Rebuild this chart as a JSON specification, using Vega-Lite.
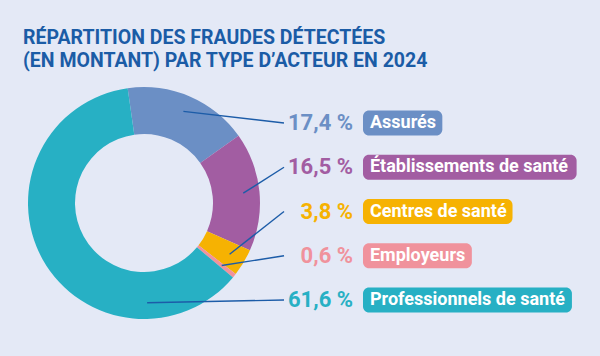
{
  "$schema": "https://vega.github.io/schema/vega-lite/v6.json",
  "width": 288,
  "height": 266,
  "autosize": "none",
  "padding": {"top": 70, "left": 0, "right": 312, "bottom": 20},
  "background": "#e4e9f6",
  "title": {
    "text": ["RÉPARTITION DES FRAUDES DÉTECTÉES", "(EN MONTANT) PAR TYPE D’ACTEUR EN 2024"],
    "anchor": "start",
    "frame": "group",
    "dx": 23,
    "offset": -1,
    "font": "Roboto",
    "fontSize": 19.5,
    "fontWeight": "bold",
    "color": "#1b5ca6",
    "lineHeight": 23
  },
  "data": {
    "values": [
      {"acteur": "Assurés", "part": 17.4},
      {"acteur": "Établissements de santé", "part": 16.5},
      {"acteur": "Centres de santé", "part": 3.8},
      {"acteur": "Employeurs", "part": 0.6},
      {"acteur": "Professionnels de santé", "part": 61.6}
    ]
  },
  "transform": [
    {"window": [{"op": "row_number", "as": "rang"}, {"op": "sum", "field": "part", "as": "cumul"}], "frame": [null, 0]},
    {"joinaggregate": [{"op": "sum", "field": "part", "as": "total"}]},
    {"calculate": "2*PI*(datum.cumul - datum.part/2)/datum.total - 0.1414", "as": "angle_mid"},
    {"calculate": "min(datum.angle_mid, 3.11)", "as": "angle_ancre"},
    {"calculate": "0.86*sin(datum.angle_ancre)", "as": "ancre_u"},
    {"calculate": "0.86*cos(datum.angle_ancre)", "as": "ancre_v"},
    {"calculate": "1.2069", "as": "fin_u"},
    {"calculate": "1.8017", "as": "pct_u"},
    {"calculate": "1.8879", "as": "boite_u"},
    {"calculate": "1.9483", "as": "nom_u"},
    {"calculate": "0.6897 - 0.3815*(datum.rang - 1)", "as": "ligne_v"},
    {"calculate": "datum.ligne_v + 0.1078", "as": "boite_haut"},
    {"calculate": "datum.ligne_v - 0.1078", "as": "boite_bas"},
    {"calculate": "replace(format(datum.part, '.1f'), '.', ',') + ' %'", "as": "pct_txt"},
    {"calculate": "length(datum.acteur)", "as": "n_car"},
    {"calculate": "datum.n_car - length(replace(datum.acteur, regexp('[A-ZÉ]', 'g'), ''))", "as": "n_maj"},
    {"calculate": "datum.n_car - length(replace(datum.acteur, regexp('[iljtfr ,]', 'g'), ''))", "as": "n_etroit"},
    {"calculate": "datum.n_car - length(replace(datum.acteur, regexp('[mw]', 'g'), ''))", "as": "n_large"},
    {"calculate": "0.54*datum.n_car + 0.09*datum.n_maj - 0.24*datum.n_etroit + 0.26*datum.n_large", "as": "largeur_em"},
    {"calculate": "datum.boite_u + (datum.largeur_em*18 + 14)/116", "as": "boite_fin"}
  ],
  "layer": [
    {
      "mark": {"type": "arc", "innerRadius": 69, "outerRadius": 116},
      "encoding": {
        "theta": {"field": "part", "type": "quantitative", "stack": true, "scale": {"range": [-0.1414, 6.1418]}},
        "order": {"field": "rang", "type": "quantitative"},
        "color": {
          "field": "acteur", "type": "nominal", "legend": null,
          "scale": {
            "domain": ["Assurés", "Établissements de santé", "Centres de santé", "Employeurs", "Professionnels de santé"],
            "range": ["#6b8fc5", "#a25da2", "#f6b202", "#f0929c", "#27b0c4"]
          }
        }
      }
    },
    {
      "mark": {"type": "rule", "color": "#1c5ca8", "strokeWidth": 1.4},
      "encoding": {
        "x": {"field": "ancre_u", "type": "quantitative", "axis": null, "scale": {"domain": [-1.2414, 1.2414], "zero": false, "nice": false}},
        "y": {"field": "ancre_v", "type": "quantitative", "axis": null, "scale": {"domain": [-1.1466, 1.1466], "zero": false, "nice": false}},
        "x2": {"field": "fin_u"},
        "y2": {"field": "ligne_v"}
      }
    },
    {
      "mark": {"type": "rect", "cornerRadius": 6},
      "encoding": {
        "x": {"field": "boite_u", "type": "quantitative"},
        "x2": {"field": "boite_fin"},
        "y": {"field": "boite_haut", "type": "quantitative"},
        "y2": {"field": "boite_bas"},
        "color": {"field": "acteur", "type": "nominal", "legend": null}
      }
    },
    {
      "mark": {"type": "text", "align": "right", "baseline": "middle", "font": "Roboto", "fontSize": 22, "fontWeight": "bold"},
      "encoding": {
        "x": {"field": "pct_u", "type": "quantitative"},
        "y": {"field": "ligne_v", "type": "quantitative"},
        "text": {"field": "pct_txt", "type": "nominal"},
        "color": {"field": "acteur", "type": "nominal", "legend": null}
      }
    },
    {
      "mark": {"type": "text", "align": "left", "baseline": "middle", "font": "Roboto", "fontSize": 18, "fontWeight": "bold", "color": "#ffffff"},
      "encoding": {
        "x": {"field": "nom_u", "type": "quantitative"},
        "y": {"field": "ligne_v", "type": "quantitative"},
        "text": {"field": "acteur", "type": "nominal"}
      }
    }
  ],
  "config": {
    "view": {"stroke": null}
  }
}
